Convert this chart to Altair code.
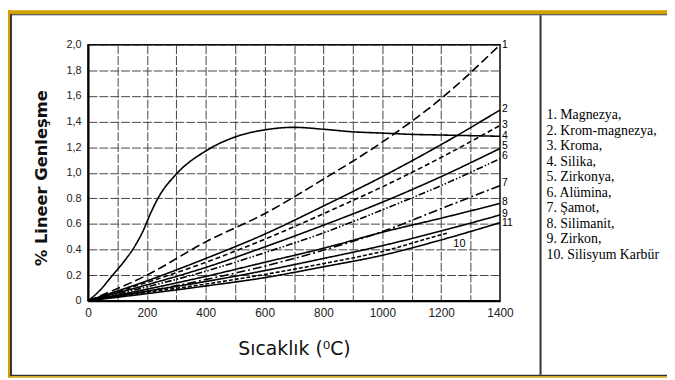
import altair as alt
import pandas as pd

# ---------------- data ----------------
temps = [0, 200, 400, 600, 800, 1000, 1200, 1400]
magnezya = [0, 0.20, 0.46, 0.68, 0.95, 1.24, 1.58, 2.00]          # 1
krom_magnezya = [0, 0.155, 0.33, 0.52, 0.74, 0.97, 1.22, 1.49]     # 2
kroma = [0, 0.143, 0.30, 0.48, 0.68, 0.89, 1.12, 1.37]             # 3
zirkonya = [0, 0.124, 0.26, 0.42, 0.59, 0.77, 0.97, 1.19]          # 5
alumina = [0, 0.108, 0.23, 0.375, 0.53, 0.71, 0.90, 1.11]          # 6
samot = [0, 0.073, 0.165, 0.27, 0.395, 0.54, 0.72, 0.90]           # 7
silimanit = [0, 0.09, 0.19, 0.30, 0.41, 0.535, 0.645, 0.76]        # 8
zirkon = [0, 0.075, 0.15, 0.235, 0.33, 0.43, 0.545, 0.67]          # 9
line11 = [0, 0.055, 0.115, 0.18, 0.265, 0.355, 0.475, 0.61]        # 11

silika_t = [0, 40, 80, 120, 160, 190, 210, 240, 300, 400, 500, 600, 700,
            800, 900, 1000, 1100, 1200, 1400]
silika_v = [0, 0.08, 0.19, 0.30, 0.43, 0.56, 0.67, 0.81, 0.99, 1.17, 1.28,
            1.335, 1.355, 1.34, 1.32, 1.31, 1.30, 1.295, 1.285]   # 4

sic_t = [0, 200, 400, 600, 800, 1000, 1200, 1225]
sic_v = [0, 0.065, 0.13, 0.205, 0.29, 0.385, 0.515, 0.53]          # 10

end_labels = ["1", "2", "3", "4", "5", "6", "7", "8", "9", "11"]
end_label_values = [2.0, 1.50, 1.375, 1.29, 1.21, 1.13, 0.92, 0.775, 0.68, 0.605]

legend_names = ["1. Magnezya,", "2. Krom-magnezya,", "3. Kroma,", "4. Silika,",
                "5. Zirkonya,", "6. Alümina,", "7. Şamot,", "8. Silimanit,",
                "9. Zirkon,", "10. Silisyum Karbür"]

y_ticks = [0, 0.2, 0.4, 0.6, 0.8, 1.0, 1.2, 1.4, 1.6, 1.8, 2.0]
x_ticks = [0, 100, 200, 300, 400, 500, 600, 700, 800, 900, 1000, 1100, 1200, 1300, 1400]

# ---------------- build tables ----------------
series = [
    ("1", temps, magnezya),
    ("2", temps, krom_magnezya),
    ("3", temps, kroma),
    ("4", silika_t, silika_v),
    ("5", temps, zirkonya),
    ("6", temps, alumina),
    ("7", temps, samot),
    ("8", temps, silimanit),
    ("9", temps, zirkon),
    ("10", sic_t, sic_v),
    ("11", temps, line11),
]
rows = []
for sid, ts, vs in series:
    for t, v in zip(ts, vs):
        rows.append({"id": sid, "T": t, "v": v})
df = pd.DataFrame(rows)

ids = [s[0] for s in series]
dashes = [[9, 4], [1, 0], [5, 3], [1, 0], [1, 0], [7, 2, 1.5, 2, 1.5, 2],
          [9, 3, 2, 3], [1, 0], [1, 0], [4, 2], [1, 0]]

labels_df = pd.DataFrame({"T": [1400] * len(end_labels), "v": end_label_values, "txt": end_labels})
label10_df = pd.DataFrame({"T": [1262], "v": [0.44], "txt": ["10"]})

xscale = alt.Scale(domain=[0, 1400], nice=False, zero=False)
yscale = alt.Scale(domain=[0, 2], nice=False)

y_label_expr = ("datum.value == 0 ? '0' : (datum.value >= 0.99 ? "
                "replace(format(datum.value, '.1f'), '.', ',') : format(datum.value, '.1f'))")

x_axis = alt.Axis(
    values=x_ticks, labelExpr="datum.value % 200 == 0 ? format(datum.value, 'd') : ''",
    ticks=False, labelPadding=7, labelFont="Liberation Sans",
    labelFontSize=12, labelColor="#222", labelFlush=False, labelOverlap=False,
    grid=True, gridColor="#444", gridDash=[9, 2], gridWidth=1,
    domainColor="black", domainWidth=2,
    title="Sıcaklık (⁰C)", titleFont="DejaVu Sans", titleFontSize=19,
    titleFontWeight="normal", titleColor="#111", titleY=48,
    titleBaseline="middle")
y_axis = alt.Axis(
    values=y_ticks, labelExpr=y_label_expr, ticks=False, labelPadding=7,
    labelFont="Liberation Sans", labelFontSize=11, labelColor="#222",
    labelOverlap=False, labelFlush=False,
    grid=True, gridColor="#444", gridDash=[9, 2], gridWidth=1,
    domainColor="black", domainWidth=2,
    title="% Lineer Genleşme", titleFont="DejaVu Sans", titleFontSize=16.5,
    titleFontWeight="bold", titleColor="#111", titleX=-47, titleY=134.5,
    titleAngle=270, titleAlign="center", titleBaseline="middle")

X = alt.X("T:Q", scale=xscale, axis=x_axis)
Y = alt.Y("v:Q", scale=yscale, axis=y_axis)

lines = alt.Chart(df).mark_line(color="black", strokeWidth=1.6, interpolate="monotone").encode(
    x=X, y=Y,
    detail="id:N",
    strokeDash=alt.StrokeDash("id:N", scale=alt.Scale(domain=ids, range=dashes), legend=None),
)

end_text = alt.Chart(labels_df).mark_text(
    align="left", baseline="middle", dx=2, font="Liberation Sans", fontSize=10.5, color="black"
).encode(x=X, y=Y, text="txt:N")

text10 = alt.Chart(label10_df).mark_text(
    align="center", baseline="middle", font="Liberation Sans", fontSize=11, color="black"
).encode(x=X, y=Y, text="txt:N")

one = pd.DataFrame({"k": [0]})

legend = alt.Chart(one).mark_text(
    align="left", baseline="top", font="Liberation Serif", fontSize=14, color="black",
    lineHeight=15.7,
).encode(x=alt.value(464), y=alt.value(64.5), text=alt.value(legend_names))


def deco(x0, x1, y0, y1, color):
    return alt.Chart(one).mark_rect(color=color).encode(
        x=alt.value(x0), x2=alt.value(x1), y=alt.value(y0), y2=alt.value(y1))


GOLD = "#D3A100"
DARK = "#333333"
frame = [
    deco(-81, 586, -35, -31, GOLD),
    deco(-79, 586, -31, -30, DARK),
    deco(-81, -79, -35, 337, GOLD),
    deco(-79, -77, -31, 335.5, DARK),
    deco(-79, 586, 334, 335.5, DARK),
    deco(-81, 586, 335.5, 337, GOLD),
    deco(457, 459, -30, 334, DARK),
]

chart = alt.layer(lines, end_text, text10, legend, *frame).properties(
    width=417, height=259,
    padding={"left": 81, "top": 35, "right": 169, "bottom": 78},
    autosize=alt.AutoSizeParams(type="none"),
    background="white",
).configure_view(stroke="black", strokeWidth=1.5)

chart.save("out.html", embed_options={"renderer": "svg", "actions": False})
